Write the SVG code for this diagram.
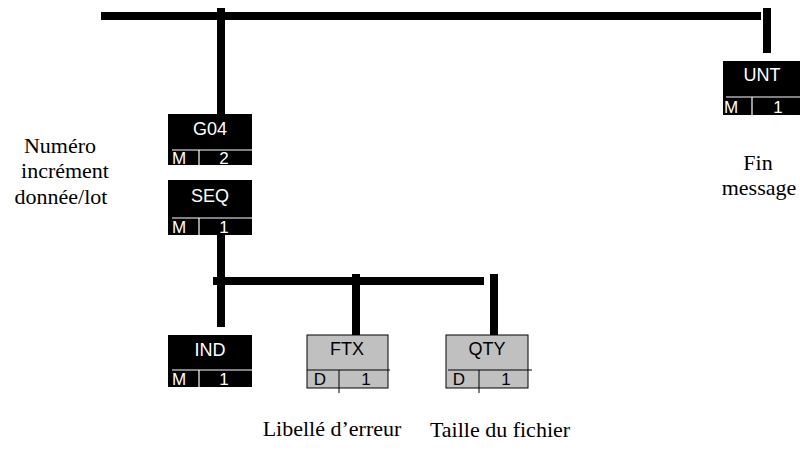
<svg xmlns="http://www.w3.org/2000/svg" width="800" height="450" viewBox="0 0 800 450">
<style>
.bar{stroke:#000;stroke-width:8;fill:none}
.blk{fill:#000}
.gry{fill:#c0c0c0;stroke:#000;stroke-width:1}
.wl{stroke:#fff;stroke-width:1.2}
.bl{stroke:#000;stroke-width:1}
.lb{font-family:"Liberation Sans",Arial,sans-serif;font-size:18px;text-anchor:middle}
.sm{font-size:17px}
.w{fill:#fff}
.k{fill:#000}
.cap{font-family:"Liberation Serif","Times New Roman",serif;font-size:22px;text-anchor:middle;fill:#000}
</style>
<rect width="800" height="450" fill="#fff"/>
<g id="connectors">
<line class="bar" x1="101" y1="16" x2="761" y2="16"/>
<line class="bar" x1="221" y1="8" x2="221" y2="114"/>
<line class="bar" x1="767" y1="8" x2="767" y2="53"/>
<line class="bar" x1="221" y1="235" x2="221" y2="327"/>
<line class="bar" x1="213" y1="281" x2="484" y2="281"/>
<line class="bar" x1="356" y1="274" x2="356" y2="335"/>
<line class="bar" x1="494" y1="274" x2="494" y2="335"/>
</g>
<g id="G04">
<rect class="blk" x="168" y="114" width="84" height="51"/>
<line class="wl" x1="172" y1="150" x2="252" y2="150"/>
<line class="wl" x1="199" y1="150" x2="199" y2="165"/>
<text class="lb w" x="210" y="135">G04</text>
<text class="lb sm w" x="179" y="164">M</text>
<text class="lb sm w" x="224" y="164">2</text>
</g>
<g id="SEQ">
<rect class="blk" x="168" y="180" width="84" height="55"/>
<line class="wl" x1="172" y1="218" x2="252" y2="218"/>
<line class="wl" x1="199" y1="218" x2="199" y2="235"/>
<text class="lb w" x="210" y="202">SEQ</text>
<text class="lb sm w" x="179" y="233">M</text>
<text class="lb sm w" x="224" y="233">1</text>
</g>
<g id="UNT">
<rect class="blk" x="723" y="61" width="82" height="54"/>
<line class="wl" x1="726" y1="97" x2="805" y2="97"/>
<line class="wl" x1="752" y1="97" x2="752" y2="115"/>
<text class="lb w" x="762" y="81">UNT</text>
<text class="lb sm w" x="731" y="113">M</text>
<text class="lb sm w" x="778" y="113">1</text>
</g>
<g id="IND">
<rect class="blk" x="168" y="335" width="84" height="52"/>
<line class="wl" x1="172" y1="370" x2="252" y2="370"/>
<line class="wl" x1="199" y1="370" x2="199" y2="387"/>
<text class="lb w" x="210" y="356">IND</text>
<text class="lb sm w" x="179" y="385">M</text>
<text class="lb sm w" x="224" y="385">1</text>
</g>
<g id="FTX">
<rect class="gry" x="307" y="335" width="81" height="53"/>
<line class="bl" x1="307" y1="370" x2="390" y2="370"/>
<line class="bl" x1="339" y1="370" x2="339" y2="393"/>
<text class="lb k" x="347" y="355">FTX</text>
<text class="lb sm k" x="320" y="385">D</text>
<text class="lb sm k" x="366" y="385">1</text>
</g>
<g id="QTY">
<rect class="gry" x="446" y="335" width="82" height="53"/>
<line class="bl" x1="448" y1="370" x2="532" y2="370"/>
<line class="bl" x1="479" y1="370" x2="479" y2="393"/>
<text class="lb k" x="487" y="355">QTY</text>
<text class="lb sm k" x="459" y="385">D</text>
<text class="lb sm k" x="506" y="385">1</text>
</g>
<g id="labels">
<text class="cap" x="60" y="153">Numéro</text>
<text class="cap" x="65" y="178">incrément</text>
<text class="cap" x="61" y="204">donnée/lot</text>
<text class="cap" x="758" y="170">Fin</text>
<text class="cap" x="759" y="195">message</text>
<text class="cap" x="332" y="436">Libellé d’erreur</text>
<text class="cap" x="500" y="437">Taille du fichier</text>
</g>
</svg>
